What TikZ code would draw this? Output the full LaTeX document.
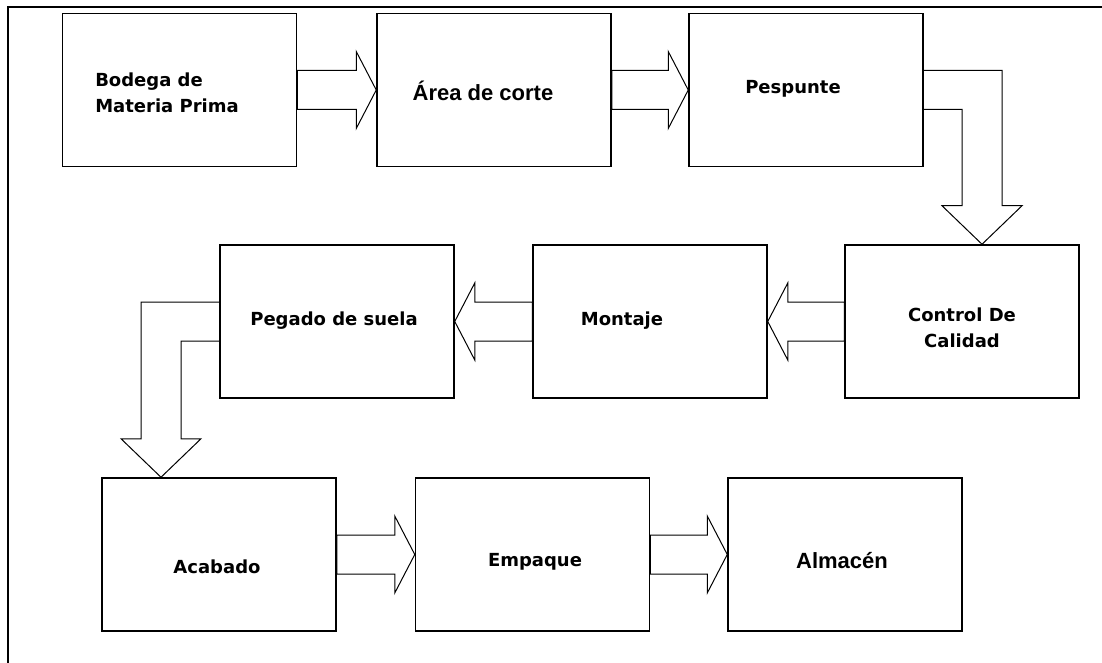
\documentclass[tikz,border=0pt]{standalone}
\usepackage{fontspec}
\usepackage{tikz}
\usetikzlibrary{calc}
\newfontfamily\stagefont{DejaVu Sans}
\newfontfamily\headfont{Liberation Sans}
\tikzset{
    stagebox/.style={draw, line width=0.75pt, inner sep=0pt,
        minimum width=117pt, minimum height=76.5pt}, % preset style for a process box
    stagetext/.style={font=\stagefont\bfseries\fontsize{9}{13}\selectfont, inner sep=0pt},
    headtext/.style={font=\headfont\bfseries\fontsize{11}{13}\selectfont, inner sep=0pt},
    blockarrow/.style={draw, line width=0.5pt, line join=miter}, % preset style for a hollow arrow
    framing/.style={draw, line width=1pt},
}

\begin{document}
\begin{tikzpicture}[x=0.5pt, y=-0.5pt]
        \useasboundingbox (0, 0) rectangle (1102, 663);
        \draw[framing] (7.5, 663) -- (7.5, 7.5) -- (1102, 7.5);
        % boxes
        \node[stagebox] (bodega) at (179.5, 90) {};
        \node[stagebox] (area) at (494, 90) {};
        \node[stagebox] (pespunte) at (806, 90) {};
        \node[stagebox] (control) at (962, 321.5) {};
        \node[stagebox] (montaje) at (650, 321.5) {};
        \node[stagebox] (pegado) at (337, 321.5) {};
        \node[stagebox] (acabado) at (219, 554.5) {};
        \node[stagebox] (empaque) at (532.5, 554.5) {};
        \node[stagebox] (almacen) at (845, 554.5) {};
        % labels
        \node[stagetext, align=left] (tbodega) at (167, 93) {Bodega de\\Materia Prima};
        \node[headtext] (tarea) at (483, 91) {Área de corte};
        \node[stagetext] (tpespunte) at (793, 89) {Pespunte};
        \node[stagetext, align=center] (tcontrol) at (962, 328) {Control De\\Calidad};
        \node[stagetext] (tmontaje) at (622, 321) {Montaje};
        \node[stagetext] (tpegado) at (334, 321) {Pegado de suela};
        \node[stagetext] (tacabado) at (217, 567) {Acabado};
        \node[stagetext] (tempaque) at (535, 562) {Empaque};
        \node[headtext] (talmacen) at (842, 561) {Almacén};
        % straight arrows
        \foreach \src/\dst in {bodega/area, area/pespunte, acabado/empaque, empaque/almacen} {
            \draw[blockarrow] ($(\src.east)+(0, -19.5)$) -- ($(\dst.west)+(-20, -19.5)$)
                -- ($(\dst.west)+(-20, -38.5)$) -- (\dst.west) -- ($(\dst.west)+(-20, 38.5)$)
                -- ($(\dst.west)+(-20, 19.5)$) -- ($(\src.east)+(0, 19.5)$) -- cycle;
        }
        \foreach \src/\dst in {control/montaje, montaje/pegado} {
            \draw[blockarrow] ($(\src.west)+(0, -19.5)$) -- ($(\dst.east)+(20, -19.5)$)
                -- ($(\dst.east)+(20, -38.5)$) -- (\dst.east) -- ($(\dst.east)+(20, 38.5)$)
                -- ($(\dst.east)+(20, 19.5)$) -- ($(\src.west)+(0, 19.5)$) -- cycle;
        }
        % bent arrows
        \coordinate (tipcontrol) at ($(control.north)+(20, 0)$);
        \draw[blockarrow] ($(pespunte.east)+(0, -19.5)$) -| ($(tipcontrol)+(20, -38.5)$)
            -- ($(tipcontrol)+(40, -38.5)$) -- (tipcontrol) -- ($(tipcontrol)+(-40, -38.5)$)
            -- ($(tipcontrol)+(-20, -38.5)$) |- ($(pespunte.east)+(0, 19.5)$);
        \coordinate (tipacabado) at ($(acabado.north)+(-58, 0)$);
        \draw[blockarrow] ($(pegado.west)+(0, -19.5)$) -| ($(tipacabado)+(-20, -38.5)$)
            -- ($(tipacabado)+(-40, -38.5)$) -- (tipacabado) -- ($(tipacabado)+(40, -38.5)$)
            -- ($(tipacabado)+(20, -38.5)$) |- ($(pegado.west)+(0, 19.5)$);
    \end{tikzpicture}
\end{document}
